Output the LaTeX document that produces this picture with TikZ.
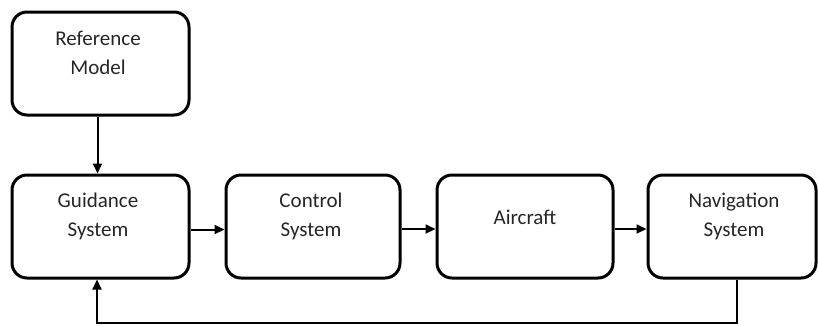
\documentclass[tikz,border=0pt]{standalone}
\usepackage{fontspec}
\setmainfont{Carlito}
\usetikzlibrary{arrows.meta,calc}
\begin{document}
\begin{tikzpicture}[x=1pt,y=-1pt,
  blk/.style={draw=black,line width=3pt,rounded corners=15pt,fill=white,inner sep=0pt},
  lbl/.style={align=center,font=\fontsize{21}{29}\selectfont,text=black!85,inner sep=0pt},
  conn/.style={line width=2pt,-{Triangle[length=10pt,width=9pt]}}]
\useasboundingbox (0,0) rectangle (818,325);
\node[blk,minimum width=177pt,minimum height=103pt] (ref) at (100.5,63.5) {};
\node[lbl] (reft) at (98,53) {Reference\\Model};
\node[blk,minimum width=177pt,minimum height=103pt] (gui) at (100.5,226.5) {};
\node[lbl] (guit) at (98,216) {Guidance\\System};
\node[blk,minimum width=174pt,minimum height=103pt] (ctl) at (313,226.5) {};
\node[lbl] (ctlt) at (311,216) {Control\\System};
\node[blk,minimum width=176pt,minimum height=103pt] (air) at (525,226.5) {};
\node[lbl] (airt) at (525,217) {Aircraft};
\node[blk,minimum width=168pt,minimum height=103pt] (nav) at (732,226.5) {};
\node[lbl] (navt) at (734,216) {Navigation\\System};
\coordinate (fbr) at (737,323);
\coordinate (fbl) at (97,323);
\draw[conn] ($(ref.south)+(-3,0)$) -- ($(gui.north)+(-3,0)$);
\draw[conn] ($(gui.east)+(0,3)$) -- ($(ctl.west)+(0,3)$);
\draw[conn] ($(ctl.east)+(0,2.5)$) -- ($(air.west)+(0,2.5)$);
\draw[conn] ($(air.east)+(0,2.5)$) -- ($(nav.west)+(0,2.5)$);
\draw[conn] (nav.south -| fbr) -- (fbr) -- (fbl) -- (gui.south -| fbl);
\end{tikzpicture}
\end{document}
